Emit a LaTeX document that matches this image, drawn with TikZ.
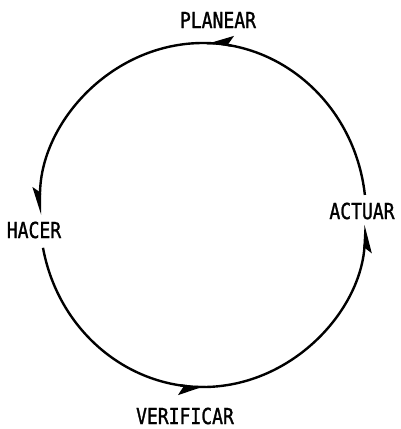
\documentclass[tikz,border=0pt]{standalone}
\usepackage{fontspec}
\usetikzlibrary{arrows.meta,calc}
\newfontfamily\lblfont[FakeStretch=0.82,FakeBold=1.2]{DejaVu Sans Mono}
\begin{document}
\begin{tikzpicture}[x=1pt,y=1pt,
  lbl/.style={inner sep=0pt,font=\lblfont\fontsize{22}{22}\selectfont},
  tip/.style={-{Stealth[harpoon,swap,length=24pt,width=15pt,inset=5pt]}},
  cyc/.style={line width=2.4pt},
  ell/.style={x radius=163pt,y radius=172pt}]
\useasboundingbox (0,0) rectangle (400,429);
\coordinate (c) at (203,214);
\node[lbl] (plan) at (218,409) {PLANEAR};
\node[lbl] (hacer) at (34,199) {HACER};
\node[lbl] (verif) at (185,13) {VERIFICAR};
\node[lbl] (actuar) at (362,218) {ACTUAR};
\coordinate (p1) at ($(c)+(6.7:163pt and 172pt)$);
\coordinate (p3) at ($(c)+(191:163pt and 172pt)$);
\coordinate (q1) at ($(c)+(80:163pt and 172pt)$);
\coordinate (q2) at ($(c)+(262:163pt and 172pt)$);
\draw[cyc,tip] (p1) arc[start angle=6.7,end angle=180,ell];
\draw[cyc,tip] (p3) arc[start angle=191,end angle=356.7,ell];
\draw[cyc,tip] (q1) arc[start angle=80,end angle=89,ell];
\draw[cyc,tip] (q2) arc[start angle=262,end angle=271,ell];
\end{tikzpicture}
\end{document}
